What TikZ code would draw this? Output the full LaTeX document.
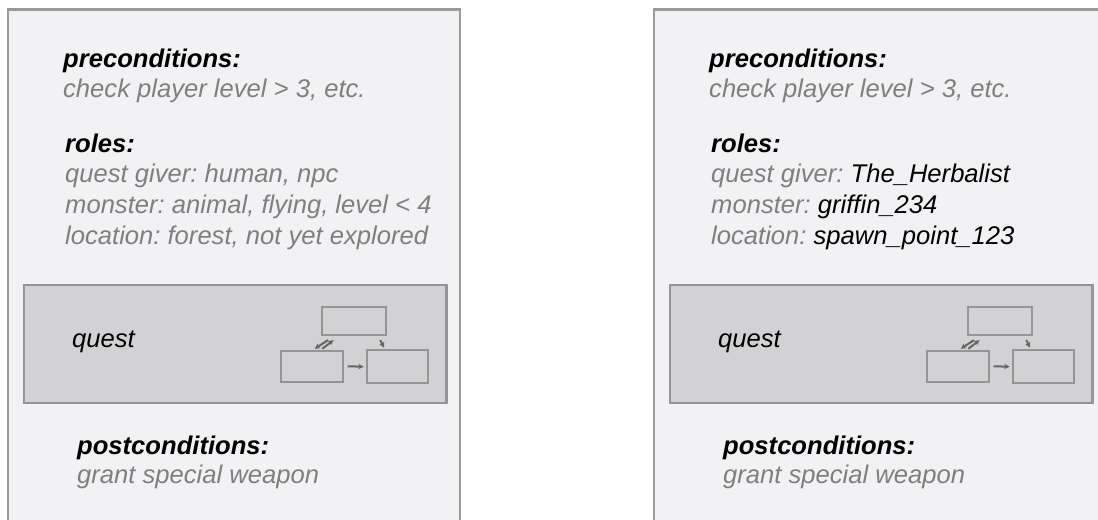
\documentclass[tikz,border=0pt]{standalone}
\usepackage{fontspec}
\setmainfont{Liberation Sans}
\usetikzlibrary{arrows.meta}
\frenchspacing
\definecolor{panelbg}{HTML}{F2F2F4}
\definecolor{panelline}{HTML}{9A9A9A}
\definecolor{questbg}{HTML}{D2D2D4}
\definecolor{questline}{HTML}{959595}
\definecolor{softtext}{HTML}{7F7F7F}
\definecolor{arrowgray}{HTML}{666666}
\tikzset{
  panel/.style={draw=panelline, fill=panelbg, line width=2.2bp},
  questbox/.style={draw=questline, fill=questbg, line width=2.2bp},
  minibox/.style={draw=questline, fill=questbg, line width=2bp, inner sep=0pt},
  txt/.style={anchor=base west, inner sep=0pt, font=\fontsize{25.6bp}{30bp}\selectfont\itshape},
  head/.style={txt, font=\fontsize{25.6bp}{30bp}\selectfont\bfseries\itshape, text=black},
  soft/.style={txt, text=softtext},
  flow/.style={draw=arrowgray, line width=2bp, -{Stealth[length=5.5bp,width=5.5bp]}},
}
% one quest panel: #1 = horizontal offset, #2..#4 = the three role lines
\newcommand{\questpanel}[4]{%
  \begin{scope}[xshift=#1]
    \draw[panel] (8,9.5) rectangle (460,540);
    \node[head] (pre) at (63,68) {preconditions:};
    \node[soft] (prec) at (63,98) {check player level > 3, etc.};
    \node[head] (roles) at (65,152.5) {roles:};
    \node[soft] (r1) at (65,183) {#2};
    \node[soft] (r2) at (65,214) {#3};
    \node[soft] (r3) at (65,245) {#4};
    \draw[questbox] (24,285) rectangle (446.5,403);
    \node[txt, text=black] (q) at (72,348) {quest};
    \node[minibox, minimum width=64bp, minimum height=28bp] (top) at (354,321.5) {};
    \node[minibox, minimum width=62bp, minimum height=31bp] (bl) at (311.7,366.3) {};
    \node[minibox, minimum width=61bp, minimum height=33bp] (br) at (397.2,366.7) {};
    \draw[flow] ([xshift=4bp]bl.east) -- ([xshift=-2bp]br.west);
    \draw[flow] ([xshift=7bp,yshift=-3.6bp]top.south west) -- ([xshift=35bp,yshift=1bp]bl.north west);
    \draw[flow] ([xshift=42.6bp,yshift=1bp]bl.north west) -- ([xshift=12.6bp,yshift=-3.6bp]top.south west);
    \draw[flow] ([xshift=-6.7bp,yshift=-3.6bp]top.south east) -- ([xshift=18.3bp,yshift=1.5bp]br.north west);
    \node[head] (post) at (77,454) {postconditions:};
    \node[soft] (postc) at (77,483.5) {grant special weapon};
  \end{scope}%
}
\begin{document}
\begin{tikzpicture}[x=1bp,y=-1bp]
  \fill[white] (0,0) rectangle (1098,520);
  \useasboundingbox (0,0) rectangle (1098,520);
  \begin{scope}
    \clip (0,0) rectangle (1098,520);
    \questpanel{0bp}{quest giver: human, npc}{monster: animal, flying, level < 4}{location: forest, not yet explored}
    \questpanel{646bp}{quest giver: \textcolor{black}{The\_Herbalist}}{monster: \textcolor{black}{griffin\_234}}{location: \textcolor{black}{spawn\_point\_123}}
  \end{scope}
\end{tikzpicture}
\end{document}
